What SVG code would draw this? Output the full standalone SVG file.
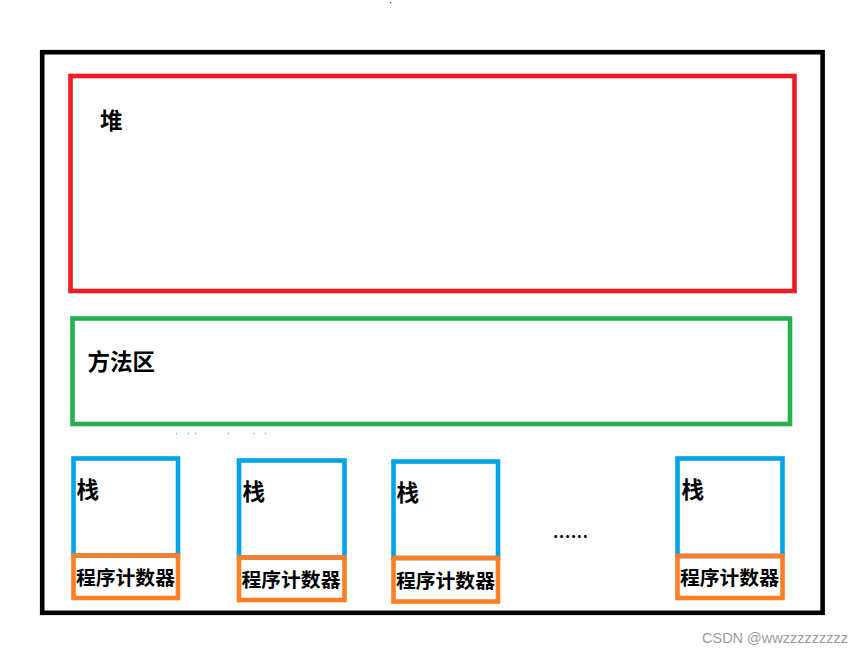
<svg xmlns="http://www.w3.org/2000/svg" width="864" height="653" viewBox="0 0 864 653">
<style>
.box{fill:none;stroke-width:4.6}
.frame{stroke:#000000}
.heap{stroke:#ED1C24}
.method{stroke:#22B14C}
.stack{stroke:#00A2E8}
.pc{stroke:#FF7F27}
.lbl{font-family:"Noto Sans CJK SC","Noto Sans CJK JP",sans-serif;font-weight:bold;fill:#000000}
.big{font-size:22.5px}
.small{font-size:19.8px}
.wm{font-family:"Liberation Sans",Arial,sans-serif;font-size:14px;fill:#9a9a9a}
.dot{fill:#00A2E8}
</style>
<rect width="864" height="653" fill="#ffffff"/>
<rect x="390" y="2" width="1.2" height="1.2" fill="#333"/>
<g id="frame"><rect class="box frame" x="42.2" y="52.2" width="780.4" height="560.6"/></g>
<g id="heap">
<rect class="box heap" x="70.5" y="76" width="724" height="215"/>
<text class="lbl big" x="100" y="129">堆</text>
</g>
<g id="method-area">
<rect class="box method" x="72.5" y="318.5" width="717.5" height="105.5"/>
<text class="lbl big" x="87.5" y="370">方法区</text>
</g>
<g id="artifacts">
<rect class="dot" x="176" y="433" width="1" height="1"/>
<rect class="dot" x="188" y="433" width="1" height="1"/>
<rect class="dot" x="195" y="433" width="1" height="1"/>
<rect class="dot" x="228" y="433" width="1" height="1"/>
<rect class="dot" x="253" y="433" width="1" height="1"/>
<rect class="dot" x="265" y="433" width="1" height="1"/>
</g>
<g id="thread1">
<rect class="box stack" x="73.5" y="458.5" width="104.5" height="97"/>
<text class="lbl big" x="76.5" y="497.5">栈</text>
<rect class="box pc" x="73.5" y="555.5" width="104.5" height="42.5"/>
<text class="lbl small" x="76" y="585">程序计数器</text>
</g>
<g id="thread2">
<rect class="box stack" x="239" y="460.5" width="105.5" height="97"/>
<text class="lbl big" x="242.5" y="500">栈</text>
<rect class="box pc" x="239" y="557.5" width="105.5" height="42.5"/>
<text class="lbl small" x="241.5" y="587">程序计数器</text>
</g>
<g id="thread3">
<rect class="box stack" x="393.5" y="461.5" width="104.5" height="96.5"/>
<text class="lbl big" x="396.5" y="501">栈</text>
<rect class="box pc" x="393.5" y="558" width="104.5" height="43.5"/>
<text class="lbl small" x="396" y="588">程序计数器</text>
</g>
<text class="lbl" x="553" y="538" font-size="16" textLength="35" lengthAdjust="spacing">......</text>
<g id="thread4">
<rect class="box stack" x="677.5" y="458.5" width="105" height="97.5"/>
<text class="lbl big" x="681.5" y="497.5">栈</text>
<rect class="box pc" x="677.5" y="556" width="105" height="42"/>
<text class="lbl small" x="680" y="585">程序计数器</text>
</g>
<text class="wm" x="702" y="642.5" textLength="146" lengthAdjust="spacingAndGlyphs">CSDN @wwzzzzzzzzz</text>
</svg>
